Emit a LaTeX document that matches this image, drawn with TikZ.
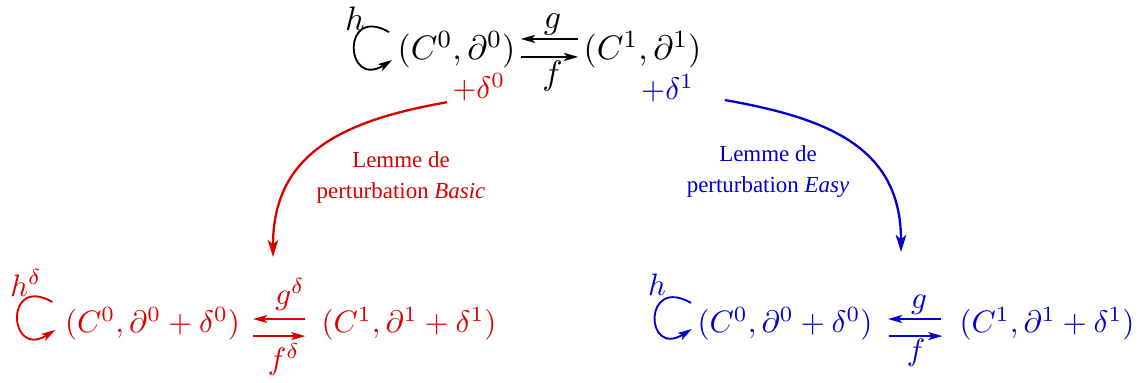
\documentclass[tikz,border=0pt]{standalone}
\usepackage{fontspec}
\newfontfamily\lemmafont{Liberation Serif}
\usetikzlibrary{arrows.meta, positioning}
\definecolor{basiccol}{RGB}{218, 0, 0}
\definecolor{easycol}{RGB}{0, 0, 208}
\tikzset{
  cplx/.style    = {inner sep=0pt},
  big/.style     = {font=\fontsize{11}{13}\selectfont},
  maplbl/.style  = {inner sep=1pt},
  map/.style     = {-{Stealth[length=4.6pt, width=2.6pt, inset=1.1pt]},
                    line width=0.6pt},
  cyc/.style     = {map},
  lemma/.style   = {-{Stealth[length=5.5pt, width=3.4pt, inset=1.4pt]},
                    line width=0.75pt, looseness=1.15},
  lemmatxt/.style = {font=\lemmafont\fontsize{7.4}{10}\selectfont,
                     align=center, inner sep=1pt},
}

\begin{document}
\begin{tikzpicture}[x=0.3226pt, y=0.3226pt]
  \useasboundingbox (0,0) rectangle (1147,383);

  %% ---------------- top ----------------
  \node[cplx, big] (top0) at (456.5,333.5) {$(C^0,\partial^0)$};
  \node[cplx, big] (top1) at (642.5,333.5) {$(C^1,\partial^1)$};
  \node[big, inner sep=0pt] (h0) at (355,364) {$h$};
  \draw[cyc] ([shift={(-2.6pt,5.6pt)}]top0.west)
       .. controls +(150:18pt) and +(212:18pt) .. ([shift={(-1.6pt,-3.4pt)}]top0.west);
  \draw[map, shorten <=1.6pt, shorten >=1.6pt] ([yshift=3.4pt]top1.west)
       -- node[above, maplbl, big, xshift=1pt] (g0) {$g$} ([yshift=3.4pt]top0.east);
  \draw[map, shorten <=1.6pt, shorten >=1.6pt] ([yshift=-2.4pt]top0.east)
       -- node[below, maplbl, big, xshift=1pt] (f0) {$f$} ([yshift=-2.4pt]top1.west);

  \node[basiccol, anchor=north east, inner sep=0pt] (d0)
       at ([shift={(-3.2pt,-1.5pt)}]top0.south east) {$+\delta^0$};
  \node[easycol, anchor=north east, inner sep=0pt] (d1)
       at ([shift={(-2.3pt,-1.8pt)}]top1.south east) {$+\delta^1$};

  %% ---------------- Basic ----------------
  \node[cplx, basiccol] (bl0) at (152.5,59) {$(C^0,\partial^0+\delta^0)$};
  \node[cplx, basiccol] (bl1) at (409,59) {$(C^1,\partial^1+\delta^1)$};
  \node[basiccol, inner sep=0pt] (h1) at (26,100) {$h^\delta$};
  \draw[cyc, basiccol] ([shift={(-3.9pt,7.1pt)}]bl0.west)
       .. controls +(150:18pt) and +(212:18pt) .. ([shift={(-2.9pt,-1.9pt)}]bl0.west);
  \draw[map, basiccol, shorten <=5pt, shorten >=4pt] ([yshift=1.6pt]bl1.west)
       -- node[above, inner sep=2.4pt, xshift=3pt] (g1) {$g^\delta$} ([yshift=1.6pt]bl0.east);
  \draw[map, basiccol, shorten <=4pt, shorten >=5pt] ([yshift=-3.9pt]bl0.east)
       -- node[below, inner sep=2pt, xshift=1pt] (f1) {$f^\delta$} ([yshift=-3.9pt]bl1.west);

  %% ---------------- Easy ----------------
  \node[cplx, easycol] (br0) at (785,59) {$(C^0,\partial^0+\delta^0)$};
  \node[cplx, easycol] (br1) at (1047,59) {$(C^1,\partial^1+\delta^1)$};
  \node[easycol, inner sep=0pt] (h2) at (657,98) {$h$};
  \draw[cyc, easycol] ([shift={(-1.9pt,6.8pt)}]br0.west)
       .. controls +(150:18pt) and +(212:18pt) .. ([shift={(-1.6pt,-1.6pt)}]br0.west);
  \draw[map, easycol, shorten <=5.8pt, shorten >=4.8pt] ([yshift=1.6pt]br1.west)
       -- node[above, maplbl, xshift=1pt] (g2) {$g$} ([yshift=1.6pt]br0.east);
  \draw[map, easycol, shorten <=5pt, shorten >=5.3pt] ([yshift=-3.9pt]br0.east)
       -- node[below, inner sep=0.7pt] (f2) {$f$} ([yshift=-3.9pt]br1.west);

  %% ---------------- lemmas ----------------
  \coordinate (redend) at (273,126);
  \coordinate (blueend) at (901,131);
  \draw[lemma, basiccol] ([xshift=-1.5pt]d0.south west) to[out=190, in=90] (redend);
  \draw[lemma, easycol] ([shift={(9.7pt,1pt)}]d1.south east) to[out=-10, in=90] (blueend);

  \node[lemmatxt, basiccol] (basic) at (401,205)
       {Lemme de\\perturbation \textit{Basic}};
  \node[lemmatxt, easycol] (easy) at (768,211)
       {Lemme de\\perturbation \textit{Easy}};

\end{tikzpicture}
\end{document}
